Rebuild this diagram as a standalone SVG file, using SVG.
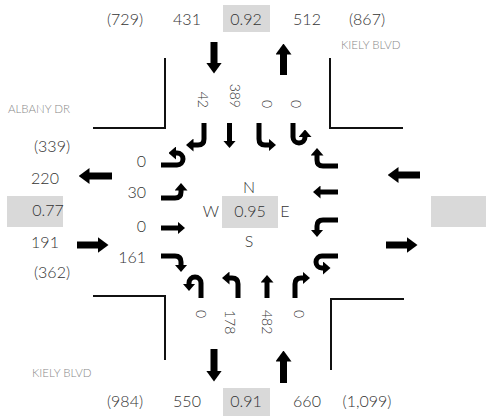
<svg xmlns="http://www.w3.org/2000/svg" width="486" height="416" viewBox="0 0 486 416">
<style>
text{font-family:Lato,"Open Sans","Liberation Sans",sans-serif;font-weight:300;fill:#333;font-size:16px}
.c{text-anchor:middle}
.r{text-anchor:end}
.lbl{font-size:11.5px;fill:#888}
.v{font-size:14px}
.box{fill:#d9d9d9}
.curb{fill:none;stroke:#111;stroke-width:2}
.la{fill:none;stroke:#000;stroke-width:5;marker-end:url(#h)}
.ba{fill:none;stroke:#000;stroke-width:7;marker-end:url(#H)}
</style>
<defs>
<marker id="h" markerUnits="userSpaceOnUse" viewBox="0 0 7.5 13" refX="0.5" refY="6.5" markerWidth="7.5" markerHeight="13" orient="auto"><path d="M0,0L7.5,6.5L0,13z" fill="#000"/></marker>
<marker id="H" markerUnits="userSpaceOnUse" viewBox="0 0 11 16" refX="0.5" refY="8" markerWidth="11" markerHeight="16" orient="auto"><path d="M0,0L11,8L0,16z" fill="#000"/></marker>
</defs>
<g id="curbs">
<path class="curb" d="M165,58V128H93"/>
<path class="curb" d="M330,58V128H403"/>
<path class="curb" d="M93,296H165V360"/>
<path class="curb" d="M404,299H331V370"/>
</g>
<g id="street-labels">
<text class="lbl" x="341" y="49">KIELY BLVD</text>
<text class="lbl" x="8" y="113">ALBANY DR</text>
<text class="lbl" x="32" y="377">KIELY BLVD</text>
</g>
<g id="north">
<text class="c" x="125" y="25">(729)</text>
<text class="c" x="187" y="25">431</text>
<rect class="box" x="223" y="5" width="47" height="27"/>
<text class="c" x="246" y="25">0.92</text>
<text class="c" x="307" y="25">512</text>
<text class="c" x="367" y="25">(867)</text>
</g>
<g id="south">
<text class="c" x="125" y="407">(984)</text>
<text class="c" x="187" y="407">550</text>
<rect class="box" x="223" y="388" width="47" height="28"/>
<text class="c" x="246" y="407">0.91</text>
<text class="c" x="307" y="407">660</text>
<text class="c" x="367" y="407">(1,099)</text>
</g>
<g id="west">
<text class="c" x="52" y="152">(339)</text>
<text class="c" x="45" y="184">220</text>
<rect class="box" x="7" y="196" width="56" height="31"/>
<text class="c" x="48" y="216">0.77</text>
<text class="c" x="45" y="248">191</text>
<text class="c" x="52" y="278">(362)</text>
</g>
<g id="east">
<rect class="box" x="431" y="196" width="55" height="31"/>
</g>
<g id="center">
<text class="c" x="249" y="193">N</text>
<text class="c" x="211" y="217">W</text>
<rect class="box" x="222" y="196" width="56" height="32"/>
<text class="c" x="250" y="217">0.95</text>
<text class="c" x="285" y="217">E</text>
<text class="c" x="249" y="247">S</text>
</g>
<g id="lane-volumes">
<text class="v r" transform="translate(198,108) rotate(90)">42</text>
<text class="v r" transform="translate(230,108) rotate(90)">389</text>
<text class="v r" transform="translate(262,108) rotate(90)">0</text>
<text class="v r" transform="translate(291,108) rotate(90)">0</text>
<text class="r" x="146" y="167">0</text>
<text class="r" x="146" y="198">30</text>
<text class="r" x="146" y="232">0</text>
<text class="r" x="146" y="263">161</text>
<text class="v" transform="translate(196,310) rotate(90)">0</text>
<text class="v" transform="translate(225,310) rotate(90)">178</text>
<text class="v" transform="translate(262,310) rotate(90)">482</text>
<text class="v" transform="translate(294,310) rotate(90)">0</text>
</g>
<g id="connectors">
<path class="ba" d="M214,42V63"/>
<path class="ba" d="M283.5,75V54"/>
<path class="ba" d="M214,349V371"/>
<path class="ba" d="M283.5,383V361"/>
<path class="ba" d="M112,176H89"/>
<path class="ba" d="M77,245H98"/>
<path class="ba" d="M420,175H398"/>
<path class="ba" d="M386,245H407"/>
<path class="la" d="M204,123V139Q204,145 198,145H193"/>
<path class="la" d="M229.5,123V141"/>
<path class="la" d="M259,123V139Q259,145 265,145H269"/>
<path class="la" d="M293,123V137A6,6 0 0 0 305,137V136.5"/>
<path class="la" d="M338,166H323Q317,166 317,160V155"/>
<path class="la" d="M338,192H320"/>
<path class="la" d="M338,220H323Q317,220 317,226V230"/>
<path class="la" d="M338,256H322A6,6 0 0 0 322,268H323.5"/>
<path class="la" d="M201,298V283A6,6 0 0 0 189,283V284"/>
<path class="la" d="M238,298V284Q238,278 232,278H229"/>
<path class="la" d="M267,298V282"/>
<path class="la" d="M295,298V284Q295,278 301,278H303"/>
<path class="la" d="M161,165H177A6,6 0 0 0 177,153H175.5"/>
<path class="la" d="M161,198H175Q181,198 181,192V190"/>
<path class="la" d="M161,228H178"/>
<path class="la" d="M161,256H175Q181,256 181,262V265"/>
</g>
</svg>
